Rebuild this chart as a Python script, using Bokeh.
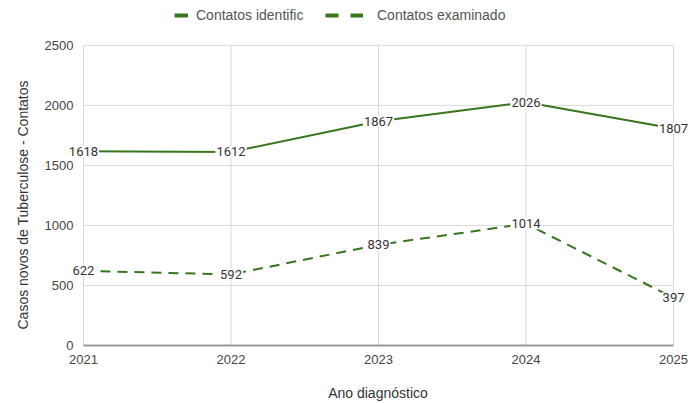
from bokeh.plotting import figure
from bokeh.models import (ColumnDataSource, Label, Legend, LegendItem,
                          FixedTicker, Range1d, Title)
from bokeh.embed import file_html
from bokeh.resources import INLINE

years = [2021, 2022, 2023, 2024, 2025]
identificados = [1618, 1612, 1867, 2026, 1807]
examinados = [622, 592, 839, 1014, 397]
series_names = ["Contatos identific", "Contatos examinado"]
y_ticks = [0, 500, 1000, 1500, 2000, 2500]
x_title = "Ano diagnóstico"
y_title = "Casos novos de Tuberculose - Contatos"

GREEN = "#38761d"
GRID = "#d9d9d9"
AXIS_FONT = "Liberation Sans"

# frame is widened beyond the data area so that point labels and legend are not clipped
X_PAD_L, X_PAD_R, Y_PAD_T = 0.115, 0.108, 365

src_a = ColumnDataSource(dict(x=years, y=identificados))
src_b = ColumnDataSource(dict(x=years, y=examinados))

p = figure(width=690, height=403, output_backend="svg", toolbar_location=None,
           x_range=Range1d(years[0] - X_PAD_L, years[-1] + X_PAD_R),
           y_range=Range1d(y_ticks[0], y_ticks[-1] + Y_PAD_T),
           min_border_left=66, min_border_right=1, min_border_top=1,
           min_border_bottom=57)
p.outline_line_color = None
p.background_fill_color = "white"
p.xgrid.visible = False
p.ygrid.visible = False

# grid drawn over the data area only
p.segment(x0=years, x1=years, y0=[y_ticks[0]] * len(years), y1=[y_ticks[-1]] * len(years),
          line_color=GRID, line_width=1)
p.segment(x0=[years[0]] * len(y_ticks), x1=[years[-1]] * len(y_ticks), y0=y_ticks, y1=y_ticks,
          line_color=GRID, line_width=1)

p.line("x", "y", source=src_a, line_color=GREEN, line_width=2)
p.line("x", "y", source=src_b, line_color=GREEN, line_width=2, line_dash="10 7")

# legend-only renderers (hidden)
la = p.line("x", "y", source=src_a, line_color=GREEN, line_width=4, visible=False)
lb = p.line("x", "y", source=src_b, line_color=GREEN, line_width=4,
            line_dash="13 12", visible=False)

for xs, ys in ((years, identificados), (years, examinados)):
    for xv, yv in zip(xs, ys):
        p.add_layout(Label(x=xv, y=yv, text=str(yv), text_align="center",
                           text_baseline="middle", text_font_size="13px",
                           text_font="Roboto", text_color="#333333",
                           background_fill_color="white", padding=1))

# axes
p.xaxis.ticker = FixedTicker(ticks=years)
p.yaxis.ticker = FixedTicker(ticks=y_ticks)
for ax in (p.xaxis[0], p.yaxis[0]):
    ax.major_tick_line_color = None
    ax.minor_tick_line_color = None
    ax.major_tick_out = 0
    ax.major_tick_in = 0
    ax.minor_tick_out = 0
    ax.major_label_text_font = AXIS_FONT
    ax.major_label_text_font_size = "13px"
    ax.major_label_text_color = "#444444"
    ax.axis_label_text_font = AXIS_FONT
    ax.axis_label_text_font_size = "14px"
    ax.axis_label_text_font_style = "normal"
    ax.axis_label_text_color = "#333333"
p.xaxis.axis_label = x_title
p.yaxis.axis_line_color = None
p.xaxis.axis_line_color = "#999999"
p.xaxis.axis_line_width = 2
p.xaxis.bounds = (years[0], years[-1])
p.xaxis.major_label_standoff = 9
p.xaxis.axis_label_standoff = 18
p.yaxis.major_label_standoff = -7

p.add_layout(Title(text=y_title, align="left", offset=16, standoff=22,
                   text_font=AXIS_FONT, text_font_size="14px",
                   text_font_style="normal", text_color="#333333"), "left")

def make_legend(item, loc, gw, standoff):
    lg = Legend(items=[item], location=loc, orientation="horizontal",
                glyph_width=gw, glyph_height=16, label_height=16,
                label_standoff=standoff, padding=0, margin=0,
                border_line_color=None, background_fill_alpha=0,
                label_text_font=AXIS_FONT, label_text_font_size="14px",
                label_text_color="#555555", inactive_fill_alpha=0,
                click_policy="none")
    p.add_layout(lg)

make_legend(LegendItem(label=series_names[0], renderers=[la]), (108, 322), 14, 8)
make_legend(LegendItem(label=series_names[1], renderers=[lb]), (259, 322), 38, 14)

open("out.html", "w").write(file_html(p, INLINE))
